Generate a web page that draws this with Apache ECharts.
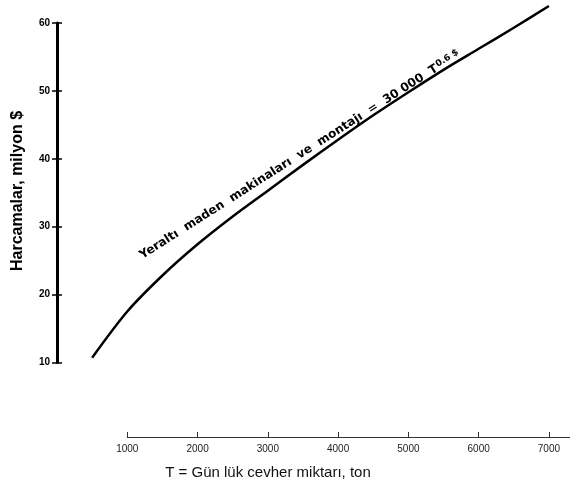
<!DOCTYPE html>
<html>
<head>
<meta charset="utf-8">
<style>
  html, body { margin: 0; padding: 0; background: #fff; }
  #chart { width: 570px; height: 493px; }
</style>
<script src="https://cdn.jsdelivr.net/npm/echarts@6/dist/echarts.min.js"></script>
</head>
<body>
<div id="chart"></div>
<script>
// Daily ore tonnage (t/day) and equipment cost (million $)
const tons = [500, 1000, 1500, 2000, 2500, 3000, 3500, 4000, 4500, 5000, 5500, 6000, 6500, 7000];
const cost = [10.7, 17.5, 22.8, 27.4, 31.5, 35.3, 39.1, 42.8, 46.4, 49.8, 53.1, 56.2, 59.3, 62.5];

// Axis tick labels
const xTickValues = [1000, 2000, 3000, 4000, 5000, 6000, 7000];
const xTickLabels = ['1000', '2000', '3000', '4000', '5000', '6000', '7000'];
const yTickValues = [10, 20, 30, 40, 50, 60];
const yTickLabels = ['10', '20', '30', '40', '50', '60'];

const xTitle = 'T = Gün lük cevher miktarı, ton';
const yTitle = 'Harcamalar, milyon $';
const curveLabel = 'Yeraltı  maden  makinaları  ve  montajı  =  30 000  T';
const curveExp = '0.6 $';

const chart = echarts.init(document.getElementById('chart'), null, { renderer: 'canvas' });

const xLabelFor = v => {
  const i = xTickValues.indexOf(v);
  return i < 0 ? '' : xTickLabels[i];
};
const yLabelFor = v => {
  const i = yTickValues.indexOf(v);
  return i < 0 ? '' : yTickLabels[i];
};

const option = {
  backgroundColor: '#ffffff',
  animation: false,
  grid: [
    { left: 57, right: 0, top: 23, bottom: 130.6, containLabel: false },
    { left: 127.3, right: 0, top: 400, bottom: 56, containLabel: false }
  ],
  xAxis: [
    { gridIndex: 0, type: 'value', min: 0, max: 7300, show: false },
    {
      gridIndex: 1, type: 'value', min: 1000, max: 7300, interval: 1000,
      position: 'bottom',
      axisLine: { show: true, lineStyle: { color: '#333', width: 1 } },
      axisTick: { show: true, inside: true, length: 5, lineStyle: { color: '#333', width: 1 } },
      splitLine: { show: false },
      axisLabel: {
        margin: 7, fontSize: 10, color: '#222', fontFamily: 'Liberation Sans',
        formatter: xLabelFor, showMaxLabel: false
      }
    }
  ],
  yAxis: [
    {
      gridIndex: 0, type: 'value', min: 10, max: 60, interval: 10, position: 'left',
      axisLine: { show: true, lineStyle: { color: '#000', width: 3 } },
      axisTick: { show: true, length: 5, lineStyle: { color: '#000', width: 1.5 } },
      splitLine: { show: false },
      axisLabel: {
        margin: 7, fontSize: 10, fontWeight: 'bold', color: '#000',
        fontFamily: 'Liberation Sans', formatter: yLabelFor
      }
    },
    {
      gridIndex: 0, type: 'value', min: 10, max: 60, interval: 10, position: 'left', offset: 0,
      axisLine: { show: false },
      axisTick: { show: true, inside: true, length: 5, lineStyle: { color: '#000', width: 1.5 } },
      splitLine: { show: false },
      axisLabel: { show: false }
    },
    { gridIndex: 1, type: 'value', show: false }
  ],
  series: [
    {
      type: 'line',
      xAxisIndex: 0,
      yAxisIndex: 0,
      data: tons.map((t, i) => [t, cost[i]]),
      smooth: 0.3,
      symbol: 'none',
      clip: false,
      lineStyle: { color: '#000', width: 2.5 }
    }
  ],
  graphic: [
    {
      type: 'text',
      x: 18, y: 191,
      rotation: Math.PI / 2,
      style: {
        text: yTitle,
        fill: '#000',
        font: 'bold 16px "Liberation Sans"',
        align: 'center',
        verticalAlign: 'middle'
      }
    },
    {
      type: 'text',
      x: 268, y: 473,
      style: {
        text: xTitle,
        fill: '#111',
        font: '15px "Liberation Sans"',
        align: 'center',
        verticalAlign: 'middle'
      }
    },
    {
      type: 'text',
      x: 300, y: 155,
      rotation: 32.5 * Math.PI / 180,
      style: {
        text: '{m|' + curveLabel + '}{s|' + curveExp + '}',
        align: 'center',
        verticalAlign: 'middle',
        rich: {
          m: { fill: '#000', font: 'bold 12px "DejaVu Sans"' },
          s: { fill: '#000', font: 'bold 9px "DejaVu Sans"', padding: [0, 0, 5, 1] }
        }
      }
    }
  ]
};

chart.setOption(option);
</script>
</body>
</html>
